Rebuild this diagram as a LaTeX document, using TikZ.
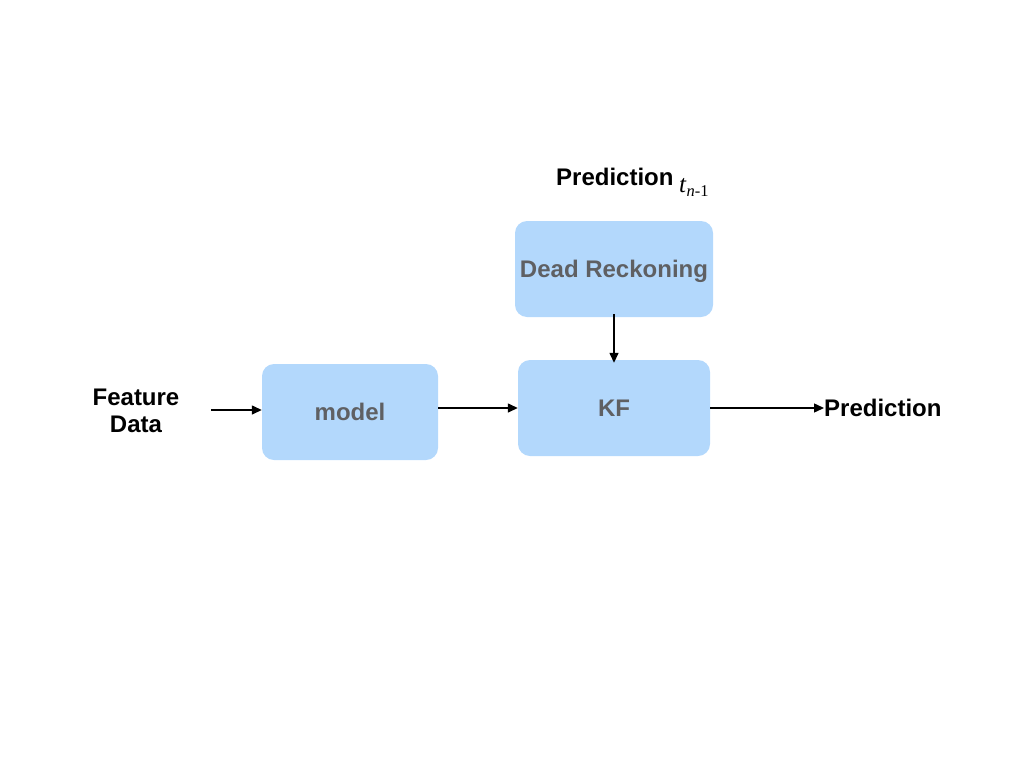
\documentclass[tikz,border=0pt]{standalone}
\usepackage{fontspec}
\setmainfont{Liberation Sans}
\newfontfamily\tserif{Liberation Serif}
\usetikzlibrary{arrows.meta}
\begin{document}
\begin{tikzpicture}[x=1pt,y=-1pt,
  blk/.style={draw=none,fill=boxblue,rounded corners=12pt,minimum height=96pt,
    font=\fontsize{24}{26}\selectfont\bfseries,text=boxtext,inner sep=0pt,
    text height=17pt,text depth=0pt},
  lbl/.style={font=\fontsize{24}{27}\selectfont\bfseries,text=black,inner sep=0pt},
  conn/.style={line width=1.4pt,-{Triangle[length=10pt,width=9pt]}}]
\definecolor{boxblue}{HTML}{B3D8FC}
\definecolor{boxtext}{HTML}{5F6063}
\useasboundingbox (0,0) rectangle (1024,768);
\node[blk,minimum width=176pt] (model) at (350,412) {model};
\node[blk,minimum width=192pt] (kf) at (614,408) {KF};
\node[blk,minimum width=198pt] (dr) at (614,269) {Dead Reckoning};
\node[lbl,align=center] (fd) at (136,411) {Feature\\Data};
\node[lbl,anchor=west] (pred) at (824,408) {Prediction};
\node[lbl,anchor=west] (ptop) at (556,177) {Prediction};
\node[anchor=west,inner sep=0pt] (tn) at (679,187) {\tserif\fontsize{25}{27}\selectfont\textit{t}\raisebox{-0.35ex}{\fontsize{16.5}{18}\selectfont\textit{n}-1}};
\coordinate (fdend) at (211,410);
\draw[conn] (fdend) -- (model.west |- fdend);
\draw[conn] (model.east |- kf) -- (kf.west);
\draw[conn] (kf.east) -- (pred.west |- kf.east);
\draw[conn] ([yshift=3pt]dr.south) -- ([yshift=-3pt]kf.north);
\end{tikzpicture}
\end{document}
